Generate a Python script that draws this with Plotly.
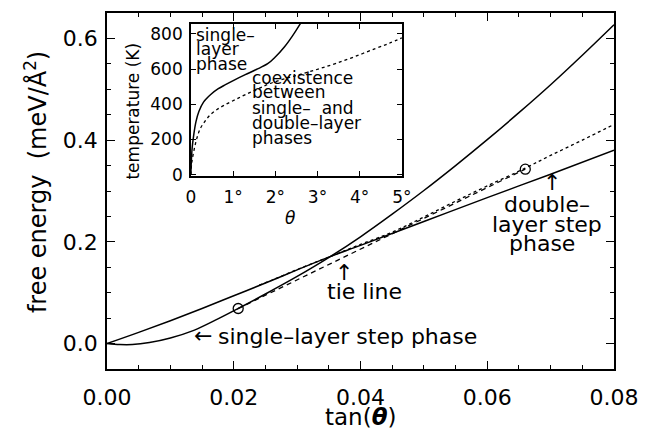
import plotly.graph_objects as go

# ---------------- data ----------------
# main panel: free energy vs tan(theta)
tan_single = [0.0, 0.002, 0.004, 0.0067, 0.01, 0.0137, 0.0175, 0.0207,
              0.025, 0.03, 0.0351, 0.04, 0.045, 0.05, 0.055, 0.06, 0.065, 0.07, 0.075, 0.08]
free_single = [0.0, -0.002, -0.002, 0.002, 0.011, 0.026, 0.0485, 0.069,
               0.0975, 0.132, 0.17, 0.21, 0.2545, 0.301, 0.35, 0.401, 0.454, 0.509, 0.567, 0.627]

tan_double = [0.0, 0.005, 0.01, 0.015, 0.02, 0.025, 0.03, 0.035, 0.04, 0.05, 0.06, 0.07, 0.08]
free_double = [0.0, 0.022, 0.045, 0.069, 0.094, 0.119, 0.145, 0.17, 0.193, 0.24, 0.287, 0.333, 0.38]

tan_dotted = [0.024, 0.026, 0.03, 0.0351, 0.04, 0.045, 0.05, 0.055, 0.06, 0.066, 0.07, 0.075, 0.08]
free_dotted = [0.115, 0.1245, 0.1455, 0.1705, 0.195, 0.219, 0.249, 0.28, 0.31, 0.345, 0.37, 0.40, 0.431]

tie_tan = [0.0207, 0.066]
tie_free = [0.069, 0.343]

# inset: transition temperature vs theta (degrees)
theta_single = [0.0, 0.01, 0.03, 0.07, 0.12, 0.19, 0.3, 0.47, 0.65, 0.82, 1.05, 1.29,
                1.55, 1.82, 2.0, 2.22, 2.4, 2.59, 2.65]
temp_single = [0, 70, 150, 229, 300, 359, 412, 455, 488, 511, 540, 568,
               597, 630, 668, 726, 785, 856, 880]

theta_dotted = [0.0, 0.02, 0.07, 0.14, 0.23, 0.35, 0.46, 0.62, 0.81, 1.05, 1.28, 1.6,
                1.89, 2.3, 2.67, 3.05, 3.44, 3.9, 4.37, 4.7, 5.0]
temp_dotted = [0, 65, 133, 205, 265, 308, 340, 370, 397, 426, 453, 488,
               519, 550, 575, 602, 632, 672, 716, 746, 777]

# ticks
x_ticks = [0.0, 0.02, 0.04, 0.06, 0.08]
y_ticks = [0.0, 0.2, 0.4, 0.6]
inset_x_ticks = [0, 1, 2, 3, 4, 5]
inset_x_labels = ["0", "1°", "2°", "3°", "4°", "5°"]
inset_y_ticks = [0, 200, 400, 600, 800]

FONT = "DejaVu Sans"
BLACK = "black"

fig = go.Figure()

# main panel curves
fig.add_trace(go.Scatter(x=tan_single, y=free_single, mode="lines",
                         line=dict(color=BLACK, width=1.5), line_shape="spline",
                         xaxis="x", yaxis="y", showlegend=False))
fig.add_trace(go.Scatter(x=tan_double, y=free_double, mode="lines",
                         line=dict(color=BLACK, width=1.5), line_shape="spline",
                         xaxis="x", yaxis="y", showlegend=False))
fig.add_trace(go.Scatter(x=tan_dotted, y=free_dotted, mode="lines",
                         line=dict(color=BLACK, width=1.3, dash="dot"), line_shape="spline",
                         xaxis="x", yaxis="y", showlegend=False))
fig.add_trace(go.Scatter(x=tie_tan, y=tie_free, mode="lines",
                         line=dict(color=BLACK, width=1.3, dash="5px,4px"),
                         xaxis="x", yaxis="y", showlegend=False))
fig.add_trace(go.Scatter(x=tie_tan, y=tie_free, mode="markers",
                         marker=dict(symbol="circle-open", size=10, color=BLACK,
                                     line=dict(width=1.3, color=BLACK)),
                         xaxis="x", yaxis="y", showlegend=False))

# inset curves
fig.add_trace(go.Scatter(x=theta_single, y=temp_single, mode="lines",
                         line=dict(color=BLACK, width=1.5), line_shape="spline",
                         xaxis="x2", yaxis="y2", showlegend=False))
fig.add_trace(go.Scatter(x=theta_dotted, y=temp_dotted, mode="lines",
                         line=dict(color=BLACK, width=1.3, dash="dot"), line_shape="spline",
                         xaxis="x2", yaxis="y2", showlegend=False))

axis_common = dict(showline=True, linecolor=BLACK, linewidth=1.5, mirror="ticks",
                   ticks="inside", tickcolor=BLACK, showgrid=False, zeroline=False)

fig.update_layout(
    width=649, height=433,
    margin=dict(l=107, r=28, t=11, b=64),
    paper_bgcolor="white", plot_bgcolor="white",
    font=dict(family=FONT, color=BLACK, size=22),
    xaxis=dict(domain=[0, 1], range=[0, 0.08], anchor="y",
               tickmode="array", tickvals=x_ticks, tickformat=".2f",
               ticklen=8, tickwidth=1.2, tickfont=dict(size=22),
               ticklabelstandoff=8,
               minor=dict(tickmode="linear", tick0=0, dtick=0.005, ticks="inside",
                          ticklen=4, tickwidth=1, tickcolor=BLACK),
               **axis_common),
    yaxis=dict(domain=[0, 1], range=[-0.05, 0.65], anchor="x",
               tickmode="array", tickvals=y_ticks, tickformat=".1f",
               ticklen=8, tickwidth=1.2, tickfont=dict(size=22),
               ticklabelstandoff=3,
               minor=dict(tickmode="linear", tick0=0, dtick=0.05, ticks="inside",
                          ticklen=4, tickwidth=1, tickcolor=BLACK),
               **axis_common),
    xaxis2=dict(domain=[0.1654, 0.5817], range=[0, 5], anchor="y2",
                tickmode="array", tickvals=inset_x_ticks, ticktext=inset_x_labels,
                ticklen=5, tickwidth=1.2, tickfont=dict(size=17),
                ticklabelstandoff=5,
                **axis_common),
    yaxis2=dict(domain=[0.5419, 0.9693], range=[-8, 856], anchor="x2",
                tickmode="array", tickvals=inset_y_ticks,
                ticklen=5, tickwidth=1.2, tickfont=dict(size=17),
                ticklabelstandoff=3,
                **axis_common),
)

ann = []
def A(text, x, y, xref="x", yref="y", size=22, xanchor="center", yanchor="middle", angle=0):
    ann.append(dict(text=text, x=x, y=y, xref=xref, yref=yref, showarrow=False,
                    font=dict(family=FONT, size=size, color=BLACK),
                    xanchor=xanchor, yanchor=yanchor, textangle=angle))

# axis titles
A("free energy  (meV/Å<sup>2</sup>)", -0.140, 0.525, "paper", "paper", size=24, angle=-90)
A("tan(<b><i>θ</i></b>)", 0.5, -0.135, "paper", "paper", size=23)
A("temperature (K)", 0.0506, 0.725, "paper", "paper", size=17, angle=-90)
A("<i>θ</i>", 0.362, 0.425, "paper", "paper", size=17)

# main annotations
A("↑", 0.0374, 0.140, size=22)
A("tie line", 0.0406, 0.103)
A("←", 0.0151, 0.016, size=22)
A("single–layer step phase", 0.0172, 0.0145, xanchor="left")
A("↑", 0.0702, 0.316, size=22)
A("double–", 0.0695, 0.273)
A("layer step", 0.0694, 0.234)
A("phase", 0.0686, 0.196)

# inset annotations
for txt, t in [("single–", 794), ("layer", 715), ("phase", 630)]:
    A(txt, 0.07, t, "x2", "y2", size=17, xanchor="left")
for txt, t in [("coexistence", 551), ("between", 472), ("single–  and", 376),
               ("double–layer", 291), ("phases", 207)]:
    A(txt, 1.40, t, "x2", "y2", size=17, xanchor="left")

fig.update_layout(annotations=ann)

fig.write_html("out.html", config={"displayModeBar": False},
               post_script="document.body.style.margin='0px';document.body.style.padding='0px';")
